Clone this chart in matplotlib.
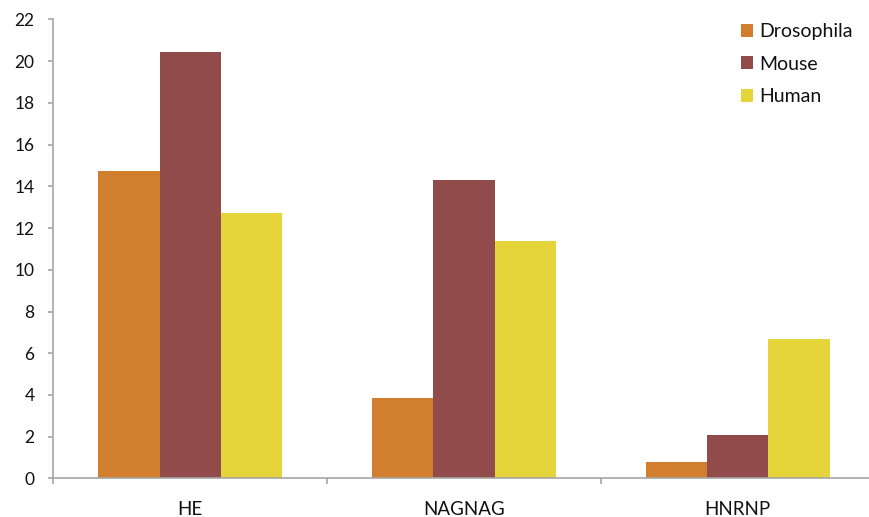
import numpy as np
import matplotlib.pyplot as plt
from matplotlib.ticker import FixedLocator

plt.rcParams['font.family'] = ['Lato', 'DejaVu Sans']

# splice-site classes and per-species values
categories = ['HE', 'NAGNAG', 'HNRNP']
drosophila = [14.75, 3.86, 0.81]
mouse = [20.45, 14.31, 2.06]
human = [12.71, 11.38, 6.68]

species = ['Drosophila', 'Mouse', 'Human']
colors = ['#D17F2E', '#914B4A', '#E5D43A']
axis_grey = '#A6A6A6'

fig = plt.figure(figsize=(8.69, 5.17), dpi=100)
ax = fig.add_axes([0.0615, 0.0745, 0.945, 0.8882])

x = np.arange(len(categories))
w = 0.224
for i, (vals, name, c) in enumerate(zip([drosophila, mouse, human], species, colors)):
    ax.bar(x + (i - 1) * w, vals, width=w, color=c, label=name, linewidth=0)

ax.set_xlim(-0.5, len(categories) - 0.5)
ax.set_ylim(0, 22)
ax.set_yticks(np.arange(0, 23, 2))
ax.set_xticks(x)
ax.set_xticklabels(categories)
ax.xaxis.set_minor_locator(FixedLocator(np.arange(-0.5, len(categories), 1.0)))

for side in ['top', 'right']:
    ax.spines[side].set_visible(False)
for side in ['left', 'bottom']:
    ax.spines[side].set_color(axis_grey)
    ax.spines[side].set_linewidth(1.2)

ax.tick_params(axis='y', length=3.6, width=1.2, color=axis_grey, pad=10, labelsize=12.5, labelcolor='#111111')
ax.tick_params(axis='x', which='major', length=0, pad=16, labelsize=13.5, labelcolor='#111111')
ax.tick_params(axis='x', which='minor', length=4, width=1.2, color=axis_grey, direction='out')

leg = ax.legend(loc='upper left', bbox_to_anchor=(741 / 869, 1 - 23 / 517),
                bbox_transform=fig.transFigure, frameon=False, fontsize=14,
                handlelength=0.64, handleheight=0.64, handletextpad=0.28,
                labelspacing=0.80, borderaxespad=0, borderpad=0)
for t in leg.get_texts():
    t.set_color('#111111')

fig.savefig('out.png', dpi=100)
